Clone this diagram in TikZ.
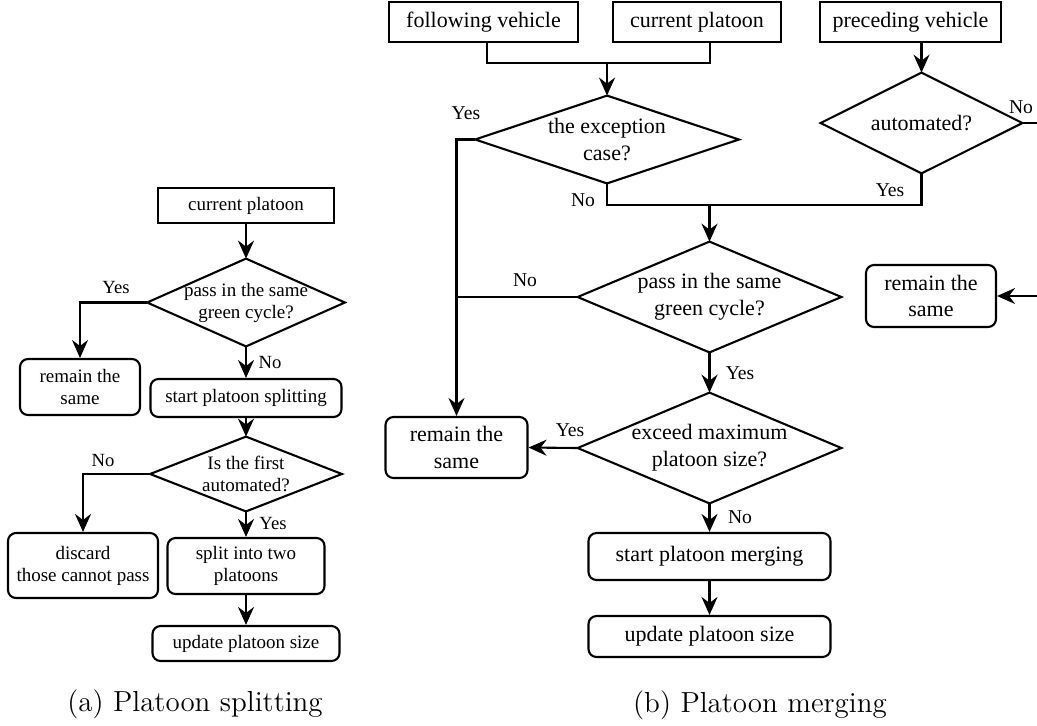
\documentclass[tikz,border=0pt]{standalone}
\usepackage{fontspec}
\newfontfamily\tms{Liberation Serif}
\usetikzlibrary{arrows.meta,calc}
\tikzset{
  ln/.style={line width=1.05pt},
  arr/.style={ln,-{Stealth[length=9pt,width=8pt,inset=3pt]}},
  sz/.style 2 args={minimum width=#1,minimum height=#2},
  fa/.style={font={\tms\fontsize{9.5}{11}\selectfont}},
  fb/.style={font={\tms\fontsize{11}{13.4}\selectfont}},
  sq/.style={draw,line width=1.05pt,align=center,inner sep=0pt},
  rb/.style={sq,rounded corners=4pt},
  dia/.style={align=center,inner sep=0pt},
  lbla/.style={font={\tms\fontsize{9.3}{11}\selectfont},inner sep=0pt},
  lblb/.style={font={\tms\fontsize{9.8}{11}\selectfont},inner sep=0pt},
  captxt/.style={font={\fontsize{14.5}{17}\selectfont},inner sep=0pt}
}
\begin{document}
\begin{tikzpicture}[x=0.5pt,y=-0.5pt]
\useasboundingbox (0,0) rectangle (1037,725);
% ---------- (a) Platoon splitting ----------
\node[sq,fa,sz={88pt}{17.5pt}] (cp1) at (246,205.5) {current platoon};
\node[dia,fa,sz={98.5pt}{43.5pt}] (d1) at (246,302.5) {pass in the same\\green cycle?};
\draw[ln] (d1.north) -- (d1.east) -- (d1.south) -- (d1.west) -- cycle;
\node[rb,fa,sz={60pt}{28pt}] (rem1) at (80,387) {remain the\\same};
\node[rb,fa,sz={95.5pt}{19pt}] (sp1) at (246,398) {start platoon splitting};
\node[dia,fa,sz={95.5pt}{37pt}] (d2) at (246,474) {Is the first\\automated?};
\draw[ln] (d2.north) -- (d2.east) -- (d2.south) -- (d2.west) -- cycle;
\node[rb,fa,sz={75pt}{32.5pt}] (disc) at (83,565.5) {discard\\those cannot pass};
\node[rb,fa,sz={78.5pt}{28pt}] (split) at (246,566) {split into two\\platoons};
\node[rb,fa,sz={93.5pt}{17.5pt}] (up1) at (246,643.5) {update platoon size};

\draw[arr] (cp1.south) -- (d1.north);
\draw[arr] (d1.west) -| (rem1.north);
\draw[arr] (d1.south) -- (sp1.north);
\draw[arr] (sp1.south) -- (d2.north);
\draw[arr] (d2.west) -| (disc.north);
\draw[arr] (d2.south) -- (split.north);
\draw[arr] (split.south) -- (up1.north);

\node[lbla] (ya1) at (116,287) {Yes};
\node[lbla] (na1) at (270,362) {No};
\node[lbla] (na2) at (103,460) {No};
\node[lbla] (ya2) at (273,523) {Yes};

\node[captxt] (capa) at (195,704) {(a) Platoon splitting};

% ---------- (b) Platoon merging ----------
\node[sq,fb,sz={94.5pt}{20pt}] (fol) at (483.5,22) {following vehicle};
\node[sq,fb,sz={84pt}{20pt}] (cur) at (697,22) {current platoon};
\node[sq,fb,sz={90.5pt}{20pt}] (pre) at (910.5,22) {preceding vehicle};

\node[dia,fb,sz={131.5pt}{43.5pt}] (exc) at (607,139.5) {the exception\\case?};
\draw[ln] (exc.north) -- (exc.east) -- (exc.south) -- (exc.west) -- cycle;
\node[dia,fb,sz={100.5pt}{50pt}] (aut) at (921.5,123) {automated?};
\draw[ln] (aut.north) -- (aut.east) -- (aut.south) -- (aut.west) -- cycle;
\node[dia,fb,sz={131.5pt}{55pt}] (pas) at (709.5,297) {pass in the same\\green cycle?};
\draw[ln] (pas.north) -- (pas.east) -- (pas.south) -- (pas.west) -- cycle;
\node[dia,fb,sz={131.5pt}{55pt}] (exd) at (709.5,448) {exceed maximum\\platoon size?};
\draw[ln] (exd.north) -- (exd.east) -- (exd.south) -- (exd.west) -- cycle;
\node[rb,fb,sz={65pt}{31pt}] (rem3) at (931,296) {remain the\\same};
\node[rb,fb,sz={71pt}{30.5pt}] (rem2) at (456.5,447.5) {remain the\\same};
\node[rb,fb,sz={121pt}{23.5pt}] (mer) at (709.5,556.5) {start platoon merging};
\node[rb,fb,sz={121pt}{20.5pt}] (up2) at (709.5,636.5) {update platoon size};

\coordinate (jn) at (607,63);
\coordinate (bus) at (709.5,205);
\coordinate (edge) at (1040,0);

\draw[ln] ([xshift=1.75pt]fol.south) |- (jn) -| ([xshift=6.5pt]cur.south);
\draw[arr] (jn) -- (exc.north);
\draw[arr] (pre.south -| aut.north) -- (aut.north);
\draw[arr] (exc.west) -| (rem2.north);
\draw[ln] (exc.south) |- (bus) -| (aut.south);
\draw[arr] (bus) -- (pas.north);
\draw[arr] (aut.east) -- (aut.east -| edge) |- (rem3.east);
\draw[ln] (pas.west) -- (pas.west -| rem2.north);
\draw[arr] (pas.south) -- (exd.north);
\draw[arr] (exd.west) -- (rem2.east);
\draw[arr] (exd.south) -- (mer.north);
\draw[arr] (mer.south) -- (up2.north);

\node[lblb] (yb1) at (466,113) {Yes};
\node[lblb] (nb1) at (583,200) {No};
\node[lblb] (yb2) at (890,190) {Yes};
\node[lblb] (nb2) at (1021,107) {No};
\node[lblb] (nb3) at (525,280) {No};
\node[lblb] (yb3) at (740,373) {Yes};
\node[lblb] (yb4) at (570,430) {Yes};
\node[lblb] (nb4) at (740,517) {No};

\node[captxt] (capb) at (760,705) {(b) Platoon merging};
\end{tikzpicture}
\end{document}
